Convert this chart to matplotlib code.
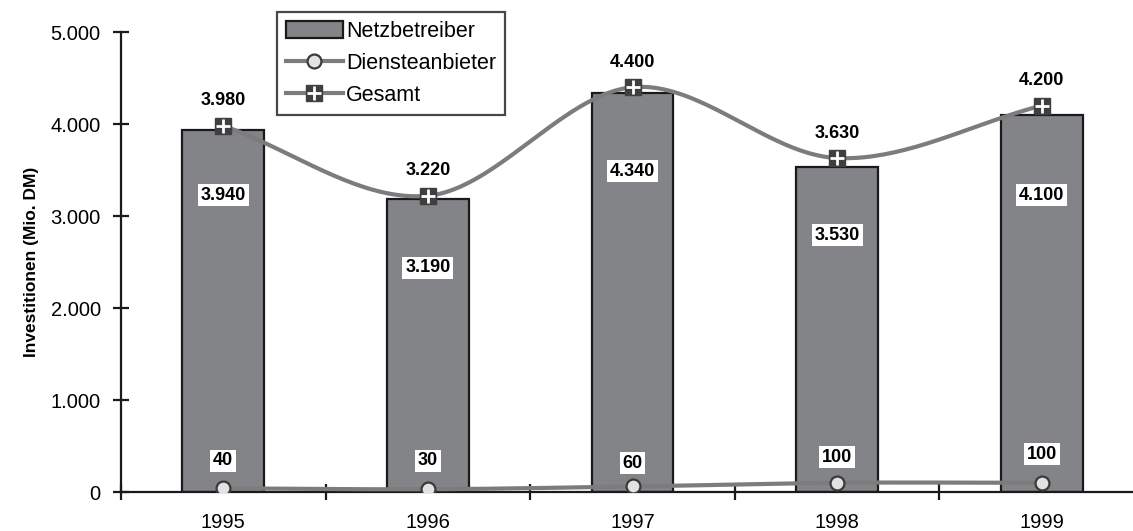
import numpy as np
import matplotlib.pyplot as plt
from matplotlib.ticker import FuncFormatter, FixedLocator
from matplotlib.legend_handler import HandlerTuple

plt.rcParams['font.family'] = ['Liberation Sans', 'DejaVu Sans']

jahre = ['1995', '1996', '1997', '1998', '1999']
netzbetreiber = [3940, 3190, 4340, 3530, 4100]
diensteanbieter = [40, 30, 60, 100, 100]
gesamt = [3980, 3220, 4400, 3630, 4200]

# where the value boxes sit (data units)
netz_label_y = [3228, 2435, 3489, 2793, 3228]
dienst_label_y = [337, 337, 315, 380, 413]


def fmt(v):
    return f"{int(v):,}".replace(",", ".")


def smooth(xs, ys, n=40):
    # Catmull-Rom, like the "smoothed line" option in office charts
    xs = np.asarray(xs, float)
    ys = np.asarray(ys, float)
    px = np.concatenate([[2 * xs[0] - xs[1]], xs, [2 * xs[-1] - xs[-2]]])
    py = np.concatenate([[2 * ys[0] - ys[1]], ys, [2 * ys[-1] - ys[-2]]])
    outx, outy = [], []
    t = np.linspace(0, 1, n)
    for i in range(1, len(px) - 2):
        for p, out in ((px, outx), (py, outy)):
            p0, p1, p2, p3 = p[i - 1], p[i], p[i + 1], p[i + 2]
            out.extend(0.5 * (2 * p1 + (-p0 + p2) * t
                              + (2 * p0 - 5 * p1 + 4 * p2 - p3) * t ** 2
                              + (-p0 + 3 * p1 - 3 * p2 + p3) * t ** 3))
    return outx, outy


fig = plt.figure(figsize=(11.33, 5.31), dpi=100)
ax = fig.add_axes([121 / 1133, 39 / 531, 1023 / 1133, 460 / 531])

x = np.arange(len(jahre))
line_col = '#7c7c7c'
bars = ax.bar(x, netzbetreiber, width=0.4, color='#838488', edgecolor='#1a1a1a',
              linewidth=1.6, zorder=2, label='Netzbetreiber')

sx, sy = smooth(x, diensteanbieter)
ax.plot(sx, sy, color=line_col, lw=3, zorder=3, solid_capstyle='butt')
ax.plot(x, diensteanbieter, ls='none', marker='o', ms=10, mfc='#e2e2e2',
        mec='#3a3a3a', mew=1.6, zorder=4)

sx, sy = smooth(x, gesamt)
ax.plot(sx, sy, color=line_col, lw=3, zorder=3, solid_capstyle='butt')
ax.plot(x, gesamt, ls='none', marker='s', ms=12, mfc='#3f3f3f', mec='#3f3f3f', zorder=4)
ax.plot(x, gesamt, ls='none', marker='+', ms=10, mec='white', mew=2, zorder=5)

box = dict(boxstyle='square,pad=0.16', fc='white', ec='none')
for i in range(len(jahre)):
    ax.text(x[i], netz_label_y[i], fmt(netzbetreiber[i]), ha='center', va='center',
            fontsize=13, fontweight='bold', bbox=box, zorder=6)
    ax.text(x[i], dienst_label_y[i], fmt(diensteanbieter[i]), ha='center', va='center',
            fontsize=13, fontweight='bold', bbox=box, zorder=6)
    ax.annotate(fmt(gesamt[i]), (x[i], gesamt[i]), xytext=(0, 18), textcoords='offset points',
                ha='center', va='center', fontsize=13, fontweight='bold', zorder=6)

ax.set_xlim(-0.5, 4.5)
ax.set_ylim(0, 5000)
ax.set_yticks(np.arange(0, 5001, 1000))
ax.yaxis.set_major_formatter(FuncFormatter(lambda v, p: fmt(v)))
ax.xaxis.set_major_locator(FixedLocator(np.arange(-0.5, 4.6, 1)))
ax.set_xticks(x, minor=True)
ax.set_xticklabels(jahre, minor=True)
ax.set_xticklabels([])
ax.tick_params(axis='x', which='minor', length=0, pad=15, labelsize=14.5)
ax.tick_params(axis='x', which='major', direction='inout', length=12, width=1.6, color='#1a1a1a')
ax.tick_params(axis='y', direction='inout', length=11, width=1.6, color='#1a1a1a',
               labelsize=14.5, pad=9)
for s in ['top', 'right']:
    ax.spines[s].set_visible(False)
for s in ['left', 'bottom']:
    ax.spines[s].set_linewidth(1.6)
    ax.spines[s].set_color('#1a1a1a')
ax.set_ylabel('Investitionen (Mio. DM)', fontsize=12.5, fontweight='bold', labelpad=8)

# legend
h_bar = bars
h_dienst = plt.Line2D([], [], color=line_col, lw=3, marker='o', ms=10, mfc='#e2e2e2',
                      mec='#3a3a3a', mew=1.6)
h_g1 = plt.Line2D([], [], color=line_col, lw=3, marker='s', ms=12, mfc='#3f3f3f', mec='#3f3f3f')
h_g2 = plt.Line2D([], [], ls='none', marker='+', ms=10, mec='white', mew=2)
leg = fig.legend([h_bar, h_dienst, (h_g1, h_g2)], ['Netzbetreiber', 'Diensteanbieter', 'Gesamt'],
                 handler_map={tuple: HandlerTuple(ndivide=1)},
                 loc='upper left', bbox_to_anchor=(277 / 1133, 1 - 12 / 531),
                 fontsize=15.5, frameon=True, fancybox=False, edgecolor='#1a1a1a',
                 handlelength=2.65, handleheight=0.9, handletextpad=0.15, borderpad=0.4,
                 labelspacing=0.5, borderaxespad=0)
leg.get_frame().set_linewidth(1.6)

fig.savefig('out.png', dpi=100)
